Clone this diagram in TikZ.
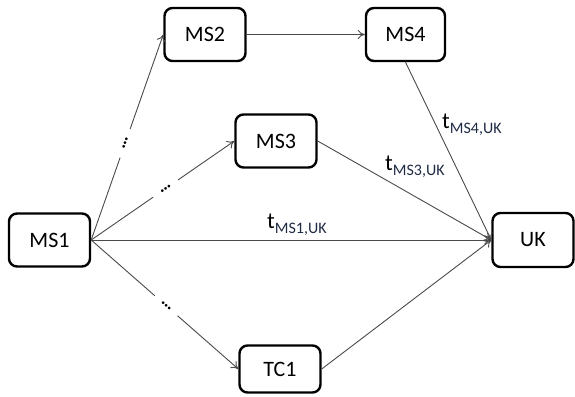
\documentclass[tikz,border=0pt]{standalone}
\usepackage{fontspec}
\setmainfont{Carlito}
\usetikzlibrary{arrows.meta}
\definecolor{linegray}{HTML}{4A4A4A}
\definecolor{subblue}{HTML}{1F2A44}
\tikzset{
  box/.style={draw=black, line width=2.4pt, rounded corners=8pt, fill=white,
    minimum width=81pt, minimum height=53pt, inner sep=0pt,
    font=\fontsize{22}{22}\selectfont},
  link/.style={draw=linegray, line width=0.9pt, -{To[length=7pt,width=9pt]}},
  gapdots/.style={sloped, fill=white, inner sep=0pt, minimum width=30pt,
    minimum height=6pt, font=\fontsize{18}{18}\selectfont\bfseries},
  tlabel/.style={inner sep=0pt, anchor=base west}
}
\newcommand{\tsub}[1]{{\fontsize{23}{23}\selectfont t}{\fontsize{16}{16}\selectfont\color{subblue}\raisebox{-5pt}{#1}}}
\begin{document}
\begin{tikzpicture}[x=1pt,y=-1pt]
  \useasboundingbox (0,0) rectangle (575,396);
  % nodes
  \node[box] (ms1) at (49.5,240) {MS1};
  \node[box] (ms2) at (205,34.5) {MS2};
  \node[box] (ms3) at (276,141) {MS3};
  \node[box, minimum width=79pt] (ms4) at (405.5,34.5) {MS4};
  \node[box, minimum height=54pt] (uk) at (533,240) {UK};
  \node[box, minimum height=47pt] (tc1) at (280,369) {TC1};
  % connectors, some interrupted by an ellipsis
  \draw[link] (ms1.east) -- node[gapdots, pos=0.47] {\dots} (ms2.west);
  \draw[link] (ms1.east) -- node[gapdots, pos=0.52] {\dots} (ms3.west);
  \draw[link] (ms1.east) -- node[gapdots, pos=0.51] {\dots} (tc1.west);
  \draw[link] (ms1.east) -- (uk.west);
  \draw[link] (ms2.east) -- (ms4.west);
  \draw[link] (ms4.south) -- (uk.west);
  \draw[link] (ms3.east) -- (uk.west);
  \draw[link] (tc1.east) -- (uk.west);
  % transit-time labels
  \node[tlabel] (l1) at (267,228) {\tsub{MS1,UK}};
  \node[tlabel] (l3) at (385,170) {\tsub{MS3,UK}};
  \node[tlabel] (l4) at (442,128) {\tsub{MS4,UK}};
\end{tikzpicture}
\end{document}
